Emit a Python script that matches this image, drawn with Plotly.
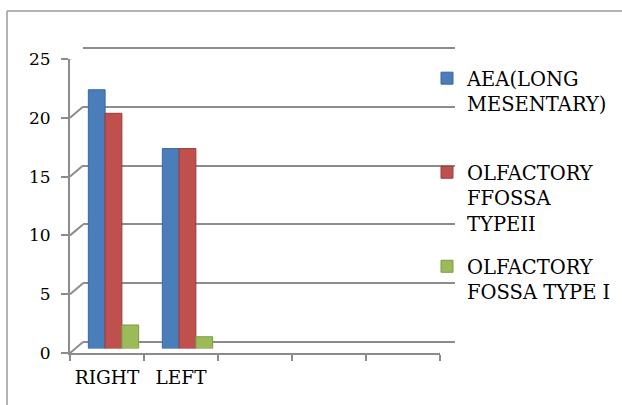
import plotly.graph_objects as go

categories = ["RIGHT", "LEFT"]
cat_pos = [0, 1]
slot_bounds = [-0.5, 0.5, 1.5, 2.5, 3.5, 4.5]
series_names = ["AEA(LONG<br>MESENTARY)<br> ",
                "OLFACTORY<br>FFOSSA<br>TYPEII",
                "OLFACTORY<br>FOSSA TYPE I"]
aea = [22, 17]
type2 = [20, 17]
type1 = [2, 1]
series_values = [aea, type2, type1]
colors = ["#4A7EBB", "#C0504D", "#9BBB59"]
edge_colors = ["#3A679E", "#9C3C3A", "#7E9A45"]
y_ticks = [0, 5, 10, 15, 20, 25]

W, H = 622, 405
def fx(px):
    return px / W
def fy(py):
    return 1 - py / H

FONT = "DejaVu Serif"
GRID = "#8C8C8C"
PPU = 11.76  # pixels per unit (vertical)

fig = go.Figure()
fig.add_trace(go.Scatter(x=[None], y=[None], xaxis="x", yaxis="y", showlegend=False))
for i, (name, vals, c, ec) in enumerate(zip(series_names, series_values, colors, edge_colors)):
    fig.add_trace(go.Bar(x=cat_pos, y=vals, name=name, xaxis="x2", yaxis="y2",
                         legendgroup="g%d" % i,
                         marker=dict(color=c, line=dict(color=ec, width=1))))
fig.add_trace(go.Scatter(x=[None], y=[None], xaxis="x3", yaxis="y3", showlegend=False))

xr = [-0.5, 4.5]
yr = [0, 25]
pad = 0.5
fig.update_layout(
    width=W, height=H,
    margin=dict(l=0, r=0, t=0, b=0),
    paper_bgcolor="white", plot_bgcolor="rgba(0,0,0,0)",
    barmode="group", bargap=0.32, bargroupgap=0,
    font=dict(family=FONT, size=18, color="black"),
    xaxis=dict(domain=[fx(83), fx(455)], range=xr, visible=False, anchor="y", automargin=False),
    yaxis=dict(domain=[fy(342 + pad * PPU), fy(48 - pad * PPU)], range=[-pad, 25 + pad],
               tickvals=y_ticks, showgrid=True, gridcolor=GRID, gridwidth=2,
               zeroline=False, showticklabels=False, ticks="", showline=False, anchor="x",
               automargin=False),
    xaxis2=dict(domain=[fx(76.5), fx(446.5)], range=xr, visible=False, anchor="y2",
                automargin=False),
    yaxis2=dict(domain=[fy(348.5), fy(54.5)], range=yr, visible=False, anchor="x2",
                automargin=False),
    xaxis3=dict(domain=[fx(70), fx(440)], range=xr, tickvals=cat_pos, ticktext=categories,
                ticks="", showgrid=False, zeroline=False, showline=True, linecolor=GRID,
                linewidth=2, anchor="y3", ticklabelstandoff=7, automargin=False,
                tickfont=dict(family=FONT, size=18.5, color="black"),
                minor=dict(tickvals=slot_bounds, ticks="outside", ticklen=6,
                           tickcolor=GRID, tickwidth=2)),
    yaxis3=dict(domain=[fy(353), fy(59)], range=yr, tickvals=y_ticks, ticks="outside",
                ticklen=7, tickcolor=GRID, tickwidth=2, showgrid=False, zeroline=False,
                showline=True, linecolor=GRID, linewidth=2, anchor="x3", automargin=False,
                ticklabelstandoff=7, tickfont=dict(family=FONT, size=17, color="black")),
    legend=dict(x=fx(427), y=fy(59), xanchor="left", yanchor="top",
                font=dict(family=FONT, size=19.5, color="black"), valign="top",
                tracegroupgap=15, bgcolor="rgba(0,0,0,0)", itemwidth=30),
    showlegend=True,
)

shapes = []
for v in y_ticks:
    shapes.append(dict(type="line", xref="x3", yref="y3", xsizemode="pixel", ysizemode="pixel",
                       xanchor=-0.5, yanchor=v, x0=0, x1=13, y0=0, y1=11,
                       line=dict(color=GRID, width=2), layer="below"))
shapes.append(dict(type="line", xref="x3", yref="y3", xsizemode="pixel", ysizemode="pixel",
                   xanchor=4.5, yanchor=0, x0=0, x1=15, y0=0, y1=11,
                   line=dict(color=GRID, width=2), layer="below"))
shapes.append(dict(type="line", xref="paper", yref="paper", x0=fx(7), x1=1, y0=fy(11), y1=fy(11),
                   line=dict(color="#9A9A9A", width=1.5)))
shapes.append(dict(type="line", xref="paper", yref="paper", x0=fx(7), x1=fx(7), y0=fy(11), y1=0,
                   line=dict(color="#9A9A9A", width=1.5)))
fig.update_layout(shapes=shapes)

fig.write_html("out.html", config={"displayModeBar": False},
               post_script="document.body.style.margin='0';document.body.style.overflow='hidden';")
